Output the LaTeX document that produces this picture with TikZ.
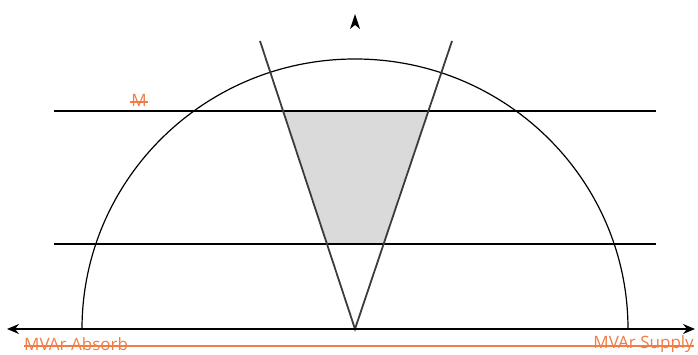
\documentclass[tikz,border=0pt]{standalone}
\usepackage{fontspec}
\setmainfont{Open Sans}
\usetikzlibrary{arrows.meta}
\definecolor{orng}{RGB}{240,125,70}
\definecolor{fillgray}{RGB}{218,218,218}
\definecolor{vline}{RGB}{60,60,60}
\tikzset{
  axis/.style={line width=1.3pt,black},
  limit/.style={line width=1.2pt,black},
  vee/.style={line width=1.8pt,vline},
  lbl/.style={text=orng,font=\fontsize{17}{17}\selectfont,inner sep=0pt},
  strike/.style={draw=orng,line width=2pt}
}
\begin{document}
\begin{tikzpicture}[x=1pt,y=-1pt]
\useasboundingbox (0,0) rectangle (698,355);
% shaded region
\fill[fill=fillgray] (283,111) -- (428.4,111) -- (383.6,244) -- (327,244) -- cycle;
% semicircle
\draw[limit] (82,329) arc[start angle=180,end angle=360,x radius=273,y radius=270];
% horizontal limit lines
\draw[limit] (54,111) coordinate (h1a) -- (656,111) coordinate (h1b);
\draw[limit] (54,244) coordinate (h2a) -- (656,244) coordinate (h2b);
% V lines
\coordinate (o) at (355,329);
\coordinate (vl) at (260,41);
\coordinate (vr) at (452,41);
\draw[vee] (vl) -- (o) -- (vr);
% axis
\coordinate (axl) at (7,329);
\coordinate (axr) at (695,329);
\draw[axis,{Stealth[length=12pt,width=10pt,inset=4pt]}-{Stealth[length=12pt,width=10pt,inset=4pt]}] (axl) -- (axr);
% vertical arrow head only
\fill[black] (355,14) -- (360,29) -- (355,25) -- (350,29) -- cycle;
% labels
\node[lbl,anchor=west] (abs) at (24,344) {MVAr Absorb};
\node[lbl,anchor=east] (sup) at (694,344) {MVAr Supply};
\coordinate (sl) at (24,345.5);
\coordinate (sr) at (694,345.5);
\draw[strike] (sl) -- (sr);
\node[lbl] (m) at (139,100) {M};
\coordinate (ml) at (130,102);
\coordinate (mr) at (148,102);
\draw[strike] (ml) -- (mr);
\end{tikzpicture}
\end{document}
